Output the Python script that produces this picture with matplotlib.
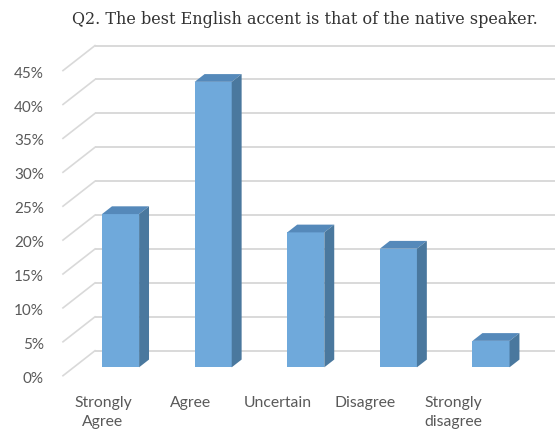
import numpy as np
import matplotlib
matplotlib.use("Agg")
import matplotlib.pyplot as plt
from matplotlib.patches import Polygon

# ---- data ----
categories = ["Strongly\nAgree", "Agree", "Uncertain", "Disagree", "Strongly\ndisagree"]
values = [22.6, 42.1, 19.9, 17.5, 3.9]
ytick_values = [0, 5, 10, 15, 20, 25, 30, 35, 40, 45]
ytick_labels = ["0%", "5%", "10%", "15%", "20%", "25%", "30%", "35%", "40%", "45%"]
title = "Q2. The best English accent is that of the native speaker."

# ---- style ----
c_front = "#6FA9DB"
c_top = "#5589BA"
c_side = "#4A789E"
c_grid = "#D9D9D9"
c_text = "#595959"

W, H = 555, 436
fig = plt.figure(figsize=(W / 100, H / 100), dpi=100)
ax = fig.add_axes([0, 0, 1, 1])
ax.set_xlim(-1.302, 4.691)
ax.set_ylim(-10.13, 54.17)
ax.axis("off")

# oblique depth vector (data units) for the full floor depth
DX, DY = 0.3456, 3.687
front_f = -0.336   # front plane relative to bar front faces
back_f = 0.664     # back wall relative to bar front faces
bar_f = 0.31       # bar depth
bw = 0.40

front_left = -0.622
back_left = front_left + DX

# gridlines: back wall + left side wall
for v in ytick_values:
    yb = v + back_f * DY
    yf = v + front_f * DY
    ax.plot([back_left, 4.691], [yb, yb], color=c_grid, lw=1.4, zorder=1,
            solid_capstyle="butt")
    ax.plot([front_left, back_left], [yf, yb], color=c_grid, lw=1.2, zorder=1)

# y tick labels on the front plane
for v, lab in zip(ytick_values, ytick_labels):
    ax.text(-0.827, v + front_f * DY - 0.45, lab, ha="right", va="center",
            fontsize=11, family="Lato", color=c_text)

# bars
x = np.arange(len(values))
ax.bar(x, values, width=bw, color=c_front, zorder=3)
dx, dy = bar_f * DX, bar_f * DY
for xi, v in zip(x, values):
    l, r = xi - bw / 2, xi + bw / 2
    top = Polygon([(l, v), (r, v), (r + dx, v + dy), (l + dx, v + dy)],
                  closed=True, facecolor=c_top, edgecolor="none", zorder=3)
    side = Polygon([(r, 0), (r + dx, dy), (r + dx, v + dy), (r, v)],
                   closed=True, facecolor=c_side, edgecolor="none", zorder=3)
    ax.add_patch(top)
    ax.add_patch(side)

# category labels
label_x = x * 0.945 - 0.19
for lx, lab in zip(label_x, categories):
    ax.text(lx, -4.25, lab, ha="center", va="top", fontsize=11.3,
            family="Lato", color=c_text, linespacing=1.45)

fig.text(305 / W, 1 - 20 / H, title, ha="center", va="center",
         fontsize=11.5, family="DejaVu Serif", color="#333333")

fig.savefig("out.png", dpi=100, facecolor="white")
